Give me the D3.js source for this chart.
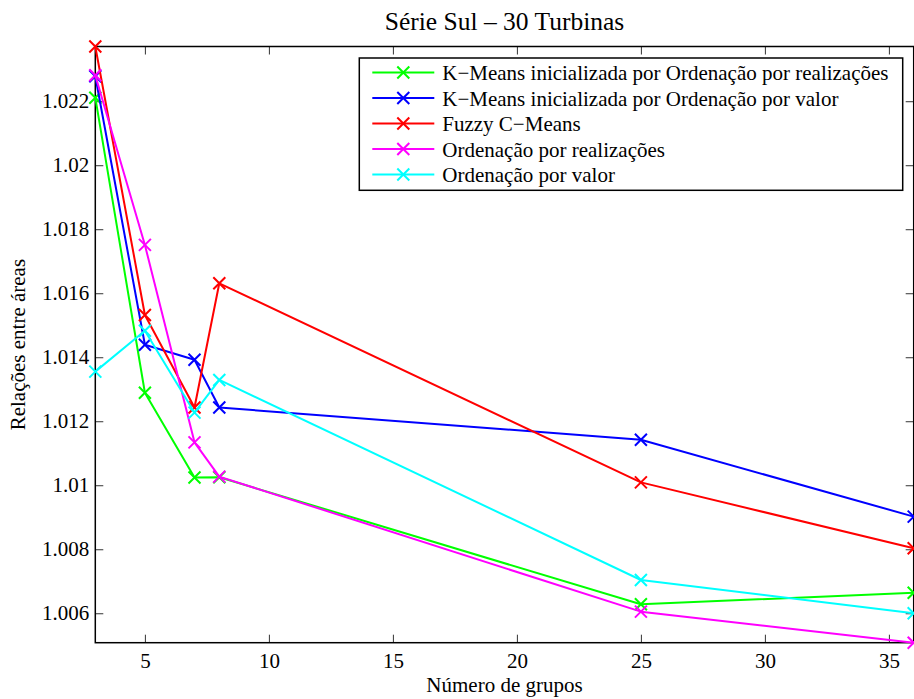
<!DOCTYPE html>
<html>
<head>
<meta charset="utf-8">
<script src="https://cdn.jsdelivr.net/npm/d3@7"></script>
<style>
  html, body { margin: 0; padding: 0; background: #fff; }
  svg text { font-family: "Liberation Serif", "Times New Roman", serif; fill: #000; }
</style>
</head>
<body>
<svg id="chart" width="914" height="699"></svg>
<script>
// Number of groups evaluated
const groups = [3, 5, 7, 8, 25, 36];

// Area ratio for each method
const kmeansRealizacoes = [1.02211, 1.01289, 1.01024, 1.01025, 1.00628, 1.00664];
const kmeansValor       = [1.02278, 1.01439, 1.01392, 1.01243, 1.01142, 1.00902];
const fuzzyCMeans       = [1.02371, 1.01532, 1.01243, 1.01631, 1.01009, 1.00803];
const ordRealizacoes    = [1.02281, 1.01751, 1.01134, 1.01027, 1.00605, 1.00508];
const ordValor          = [1.01355, 1.01483, 1.01227, 1.01329, 1.00704, 1.00600];

const seriesNames = [
  "K\u2212Means inicializada por Ordenação por realizações",
  "K\u2212Means inicializada por Ordenação por valor",
  "Fuzzy C\u2212Means",
  "Ordenação por realizações",
  "Ordenação por valor"
];
const seriesColors = ["#00ff00", "#0000ff", "#ff0000", "#ff00ff", "#00ffff"];
const seriesValues = [kmeansRealizacoes, kmeansValor, fuzzyCMeans, ordRealizacoes, ordValor];

const xTicks = [5, 10, 15, 20, 25, 30, 35];
const yTicks = [1.006, 1.008, 1.010, 1.012, 1.014, 1.016, 1.018, 1.020, 1.022];
const yTickLabels = ["1.006", "1.008", "1.01", "1.012", "1.014", "1.016", "1.018", "1.02", "1.022"];

const titleText = "Série Sul \u2013 30 Turbinas";
const xLabelText = "Número de grupos";
const yLabelText = "Relações entre áreas";

// Layout
const plot = { left: 95.3, right: 913.7, top: 46.5, bottom: 642.7 };
const baseFont = 21;
const serif = "'Liberation Serif', 'Times New Roman', serif";

const svg = d3.select("#chart");

// Axis limits are tight around the data
const allVals = seriesValues.flat();
const x = d3.scaleLinear().domain([3, 36]).range([plot.left, plot.right]);
const y = d3.scaleLinear().domain([d3.min(allVals), d3.max(allVals)]).range([plot.bottom, plot.top]);

// Axes with inward ticks on all four sides
const tickLen = 8;
const bottomAxis = d3.axisBottom(x).tickValues(xTicks).tickFormat(d3.format("d"))
  .tickSizeInner(-tickLen).tickSizeOuter(0).tickPadding(10);
const topAxis = d3.axisTop(x).tickValues(xTicks).tickFormat("")
  .tickSizeInner(-tickLen).tickSizeOuter(0);
const leftAxis = d3.axisLeft(y).tickValues(yTicks).tickFormat((d, i) => yTickLabels[i])
  .tickSizeInner(-tickLen).tickSizeOuter(0).tickPadding(6);
const rightAxis = d3.axisRight(y).tickValues(yTicks).tickFormat("")
  .tickSizeInner(-tickLen).tickSizeOuter(0);

function styleAxis(g) {
  g.attr("font-family", null).attr("font-size", null);
  g.select(".domain").remove();
  g.selectAll(".tick line").attr("stroke", "#333").attr("stroke-width", 1);
  g.selectAll(".tick text")
    .style("font-family", serif)
    .style("font-size", baseFont + "px").attr("fill", "#000");
}

svg.append("g").attr("transform", `translate(0,${plot.bottom})`).call(bottomAxis).call(styleAxis);
svg.append("g").attr("transform", `translate(0,${plot.top})`).call(topAxis).call(styleAxis);
svg.append("g").attr("transform", `translate(${plot.left},0)`).call(leftAxis).call(styleAxis);
svg.append("g").attr("transform", `translate(${plot.right},0)`).call(rightAxis).call(styleAxis);

// Axes box
svg.append("rect")
  .attr("x", plot.left).attr("y", plot.top)
  .attr("width", plot.right - plot.left).attr("height", plot.bottom - plot.top)
  .attr("fill", "none").attr("stroke", "#000").attr("stroke-width", 1.5);

// Series lines and x markers
const line = d3.line().x((d, i) => x(groups[i])).y(d => y(d));
const mk = 6;
function crossPath(cx, cy) {
  return `M${cx - mk},${cy - mk}L${cx + mk},${cy + mk}M${cx - mk},${cy + mk}L${cx + mk},${cy - mk}`;
}

seriesValues.forEach((vals, s) => {
  const g = svg.append("g");
  g.append("path").datum(vals)
    .attr("d", line)
    .attr("fill", "none")
    .attr("stroke", seriesColors[s])
    .attr("stroke-width", 2)
    .attr("stroke-linejoin", "round");
  g.selectAll("path.mk").data(vals).enter().append("path")
    .attr("class", "mk")
    .attr("d", (d, i) => crossPath(x(groups[i]), y(d)))
    .attr("stroke", seriesColors[s])
    .attr("stroke-width", 2)
    .attr("fill", "none");
});

// Legend
const legend = { x: 359.3, y: 58, w: 543.4, h: 132.3, row: 25.5, first: 72.5 };
const lg = svg.append("g");
lg.append("rect")
  .attr("x", legend.x).attr("y", legend.y)
  .attr("width", legend.w).attr("height", legend.h)
  .attr("fill", "#fff").attr("stroke", "#000").attr("stroke-width", 1.5);
seriesNames.forEach((name, i) => {
  const cy = legend.first + i * legend.row;
  lg.append("line")
    .attr("x1", 372.3).attr("x2", 434.3).attr("y1", cy).attr("y2", cy)
    .attr("stroke", seriesColors[i]).attr("stroke-width", 2);
  lg.append("path")
    .attr("d", crossPath(403.3, cy))
    .attr("stroke", seriesColors[i]).attr("stroke-width", 2).attr("fill", "none");
  lg.append("text")
    .attr("x", 442.3).attr("y", cy + 7.5)
    .style("font-family", serif)
    .style("font-size", baseFont + "px")
    .text(name);
});

// Title and axis labels
svg.append("text")
  .attr("x", (plot.left + plot.right) / 2).attr("y", 30)
  .attr("text-anchor", "middle")
  .style("font-family", serif)
  .style("font-size", "25.5px")
  .text(titleText);

svg.append("text")
  .attr("x", (plot.left + plot.right) / 2).attr("y", 692)
  .attr("text-anchor", "middle")
  .style("font-family", serif)
  .style("font-size", baseFont + "px")
  .text(xLabelText);

svg.append("text")
  .attr("transform", `translate(25,${(plot.top + plot.bottom) / 2}) rotate(-90)`)
  .attr("text-anchor", "middle")
  .style("font-family", serif)
  .style("font-size", baseFont + "px")
  .text(yLabelText);
</script>
</body>
</html>
